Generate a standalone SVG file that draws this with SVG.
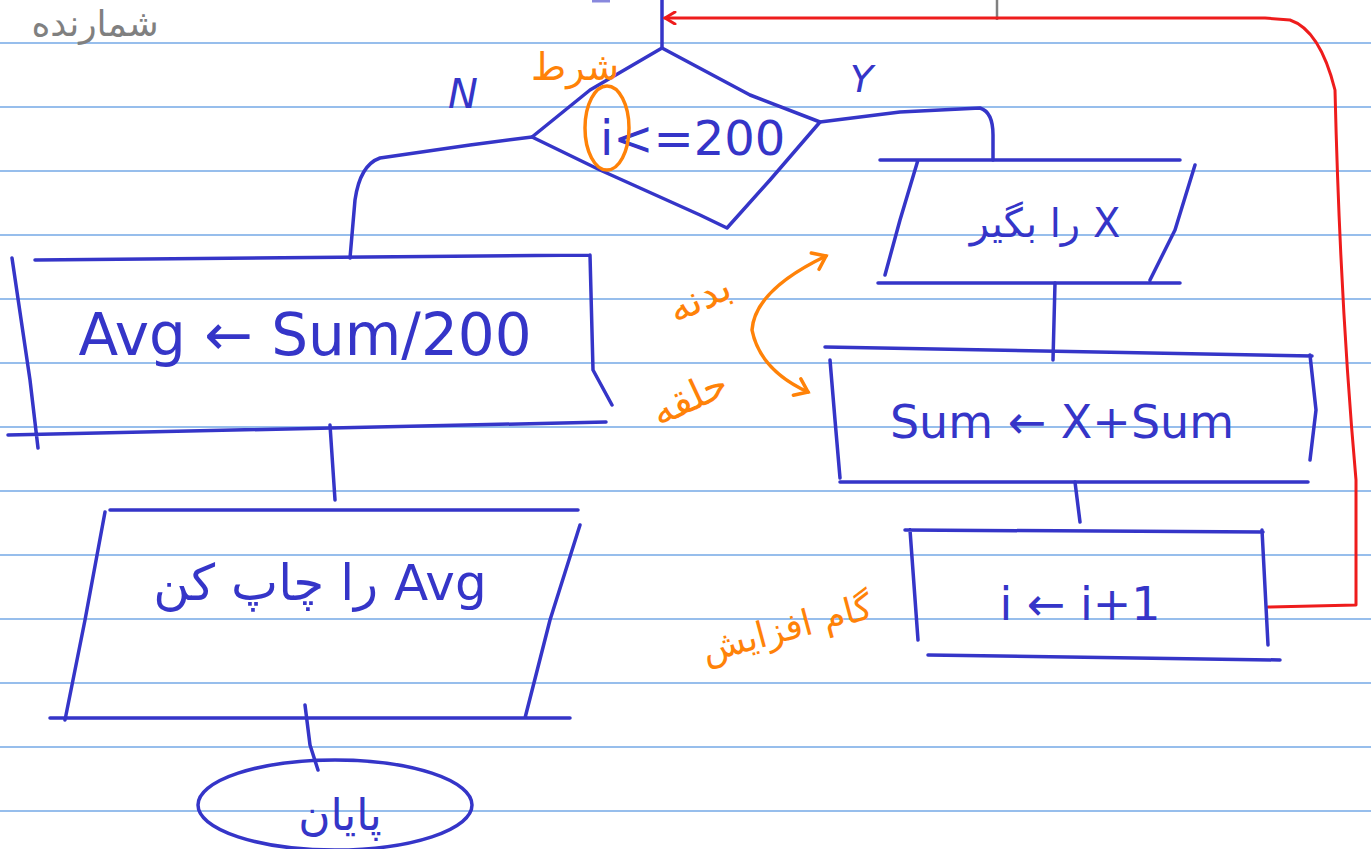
<svg xmlns="http://www.w3.org/2000/svg" width="1371" height="849" viewBox="0 0 1371 849">
<style>
.rule{stroke:#74a9e6;stroke-width:1.3}
.ink{fill:none;stroke:#3535c8;stroke-width:3.5;stroke-linecap:round;stroke-linejoin:round}
.or{fill:none;stroke:#ff8208;stroke-width:3.5;stroke-linecap:round;stroke-linejoin:round}
.red{fill:none;stroke:#ee1c1c;stroke-width:3;stroke-linecap:round;stroke-linejoin:round}
.t{fill:#3535c8;font-family:"DejaVu Sans","Liberation Sans",sans-serif}
.to{fill:#ff8208;font-family:"DejaVu Sans",sans-serif}
</style>
<defs>
<marker id="ra" markerWidth="14" markerHeight="14" refX="12" refY="7" orient="auto" markerUnits="userSpaceOnUse"><path d="M2,1 L12,7 L2,13" fill="none" stroke="#ee1c1c" stroke-width="3" stroke-linecap="round"/></marker>
<marker id="oa" markerWidth="24" markerHeight="24" refX="18" refY="12" orient="auto-start-reverse" markerUnits="userSpaceOnUse"><path d="M6,3 L18,12 L6,21" fill="none" stroke="#ff8208" stroke-width="3.5" stroke-linecap="round"/></marker>
</defs>
<rect width="1371" height="849" fill="#ffffff"/>
<g id="paper">
<line class="rule" x1="0" y1="43" x2="1371" y2="43"/>
<line class="rule" x1="0" y1="107" x2="1371" y2="107"/>
<line class="rule" x1="0" y1="171" x2="1371" y2="171"/>
<line class="rule" x1="0" y1="235" x2="1371" y2="235"/>
<line class="rule" x1="0" y1="299" x2="1371" y2="299"/>
<line class="rule" x1="0" y1="363" x2="1371" y2="363"/>
<line class="rule" x1="0" y1="427" x2="1371" y2="427"/>
<line class="rule" x1="0" y1="491" x2="1371" y2="491"/>
<line class="rule" x1="0" y1="555" x2="1371" y2="555"/>
<line class="rule" x1="0" y1="619" x2="1371" y2="619"/>
<line class="rule" x1="0" y1="683" x2="1371" y2="683"/>
<line class="rule" x1="0" y1="747" x2="1371" y2="747"/>
<line class="rule" x1="0" y1="811" x2="1371" y2="811"/>
</g>
<g id="header">
<text x="95" y="36" font-size="36" fill="#808080" font-family="DejaVu Sans,sans-serif" text-anchor="middle" direction="rtl">شمارنده</text>
<line x1="997" y1="0" x2="997" y2="20" stroke="#808080" stroke-width="2.5"/>
<line x1="592" y1="1" x2="610" y2="1" stroke="#8888dd" stroke-width="3"/>
</g>
<g id="connectors">
<path class="ink" d="M662,0 L662,48"/>
<path class="ink" d="M532,137 L470,145 L380,158 Q360,165 355,200 L350,258"/>
<path class="ink" d="M820,122 L900,112 L980,108 Q993,112 993,135 L993,160"/>
<path class="ink" d="M1055,283 L1053,360"/>
<path class="ink" d="M1075,482 L1080,522"/>
<path class="ink" d="M330,425 L335,500"/>
<path class="ink" d="M305,705 L310,745 L318,770"/>
<path class="red" d="M1268,607 L1356,605 L1356,480 Q1340,300 1335,90 Q1320,30 1290,20 L1265,18 L665,18" marker-end="url(#ra)"/>
<text class="t" x="448" y="108" font-size="40" font-style="italic">N</text>
<text class="t" x="850" y="92" font-size="38" font-style="italic">Y</text>
</g>
<g id="decision">
<path class="ink" d="M662,48 L590,90 L532,137 L600,170 L700,215 L727,228 L770,180 L820,122 L750,95 L662,48 Z"/>
<text class="t" x="600" y="155" font-size="48">i&lt;=200</text>
</g>
<g id="input-x">
<path class="ink" d="M880,160 L1180,160 M878,283 L1180,283 M918,160 L900,220 L885,275 M1195,165 L1175,230 L1150,280"/>
<text class="t" x="1045" y="237" font-size="40" text-anchor="middle" direction="rtl">X را بگیر</text>
</g>
<g id="sum">
<path class="ink" d="M825,347 L1312,356 M830,360 L835,420 L840,478 M1310,355 L1316,410 L1310,460 M840,482 L1308,482"/>
<text class="t" x="1062" y="438" font-size="46" text-anchor="middle">Sum ← X+Sum</text>
</g>
<g id="inc">
<path class="ink" d="M905,530 L1263,532 M910,530 L918,640 M1262,530 L1268,645 M928,655 L1280,660"/>
<text class="t" x="1080" y="620" font-size="46" text-anchor="middle">i ← i+1</text>
</g>
<g id="avg">
<path class="ink" d="M35,260 L590,255 M12,258 L30,380 L38,448 M590,255 L593,370 L612,405 M8,435 L606,422"/>
<text class="t" x="305" y="355" font-size="58" text-anchor="middle">Avg ← Sum/200</text>
</g>
<g id="print">
<path class="ink" d="M110,510 L578,510 M105,512 L85,620 L65,720 M580,525 L550,620 L525,718 M50,718 L570,718"/>
<text class="t" x="320" y="600" font-size="50" text-anchor="middle" direction="rtl">Avg را چاپ کن</text>
</g>
<g id="end">
<ellipse class="ink" cx="335" cy="805" rx="137" ry="45"/>
<text class="t" x="340" y="830" font-size="44" text-anchor="middle" direction="rtl">پایان</text>
</g>
<g id="notes">
<text class="to" x="575" y="80" font-size="38" text-anchor="middle" direction="rtl">شرط</text>
<ellipse class="or" cx="607" cy="128" rx="22" ry="42"/>
<path class="or" d="M826,256 Q755,290 752,330 Q760,370 808,392" marker-start="url(#oa)" marker-end="url(#oa)"/>
<text class="to" transform="translate(705,310) rotate(-25)" font-size="40" text-anchor="middle" direction="rtl">بدنه</text>
<text class="to" transform="translate(695,410) rotate(-25)" font-size="40" text-anchor="middle" direction="rtl">حلقه</text>
<text class="to" transform="translate(790,640) rotate(-15)" font-size="36" text-anchor="middle" direction="rtl">گام افزایش</text>
</g>
</svg>
